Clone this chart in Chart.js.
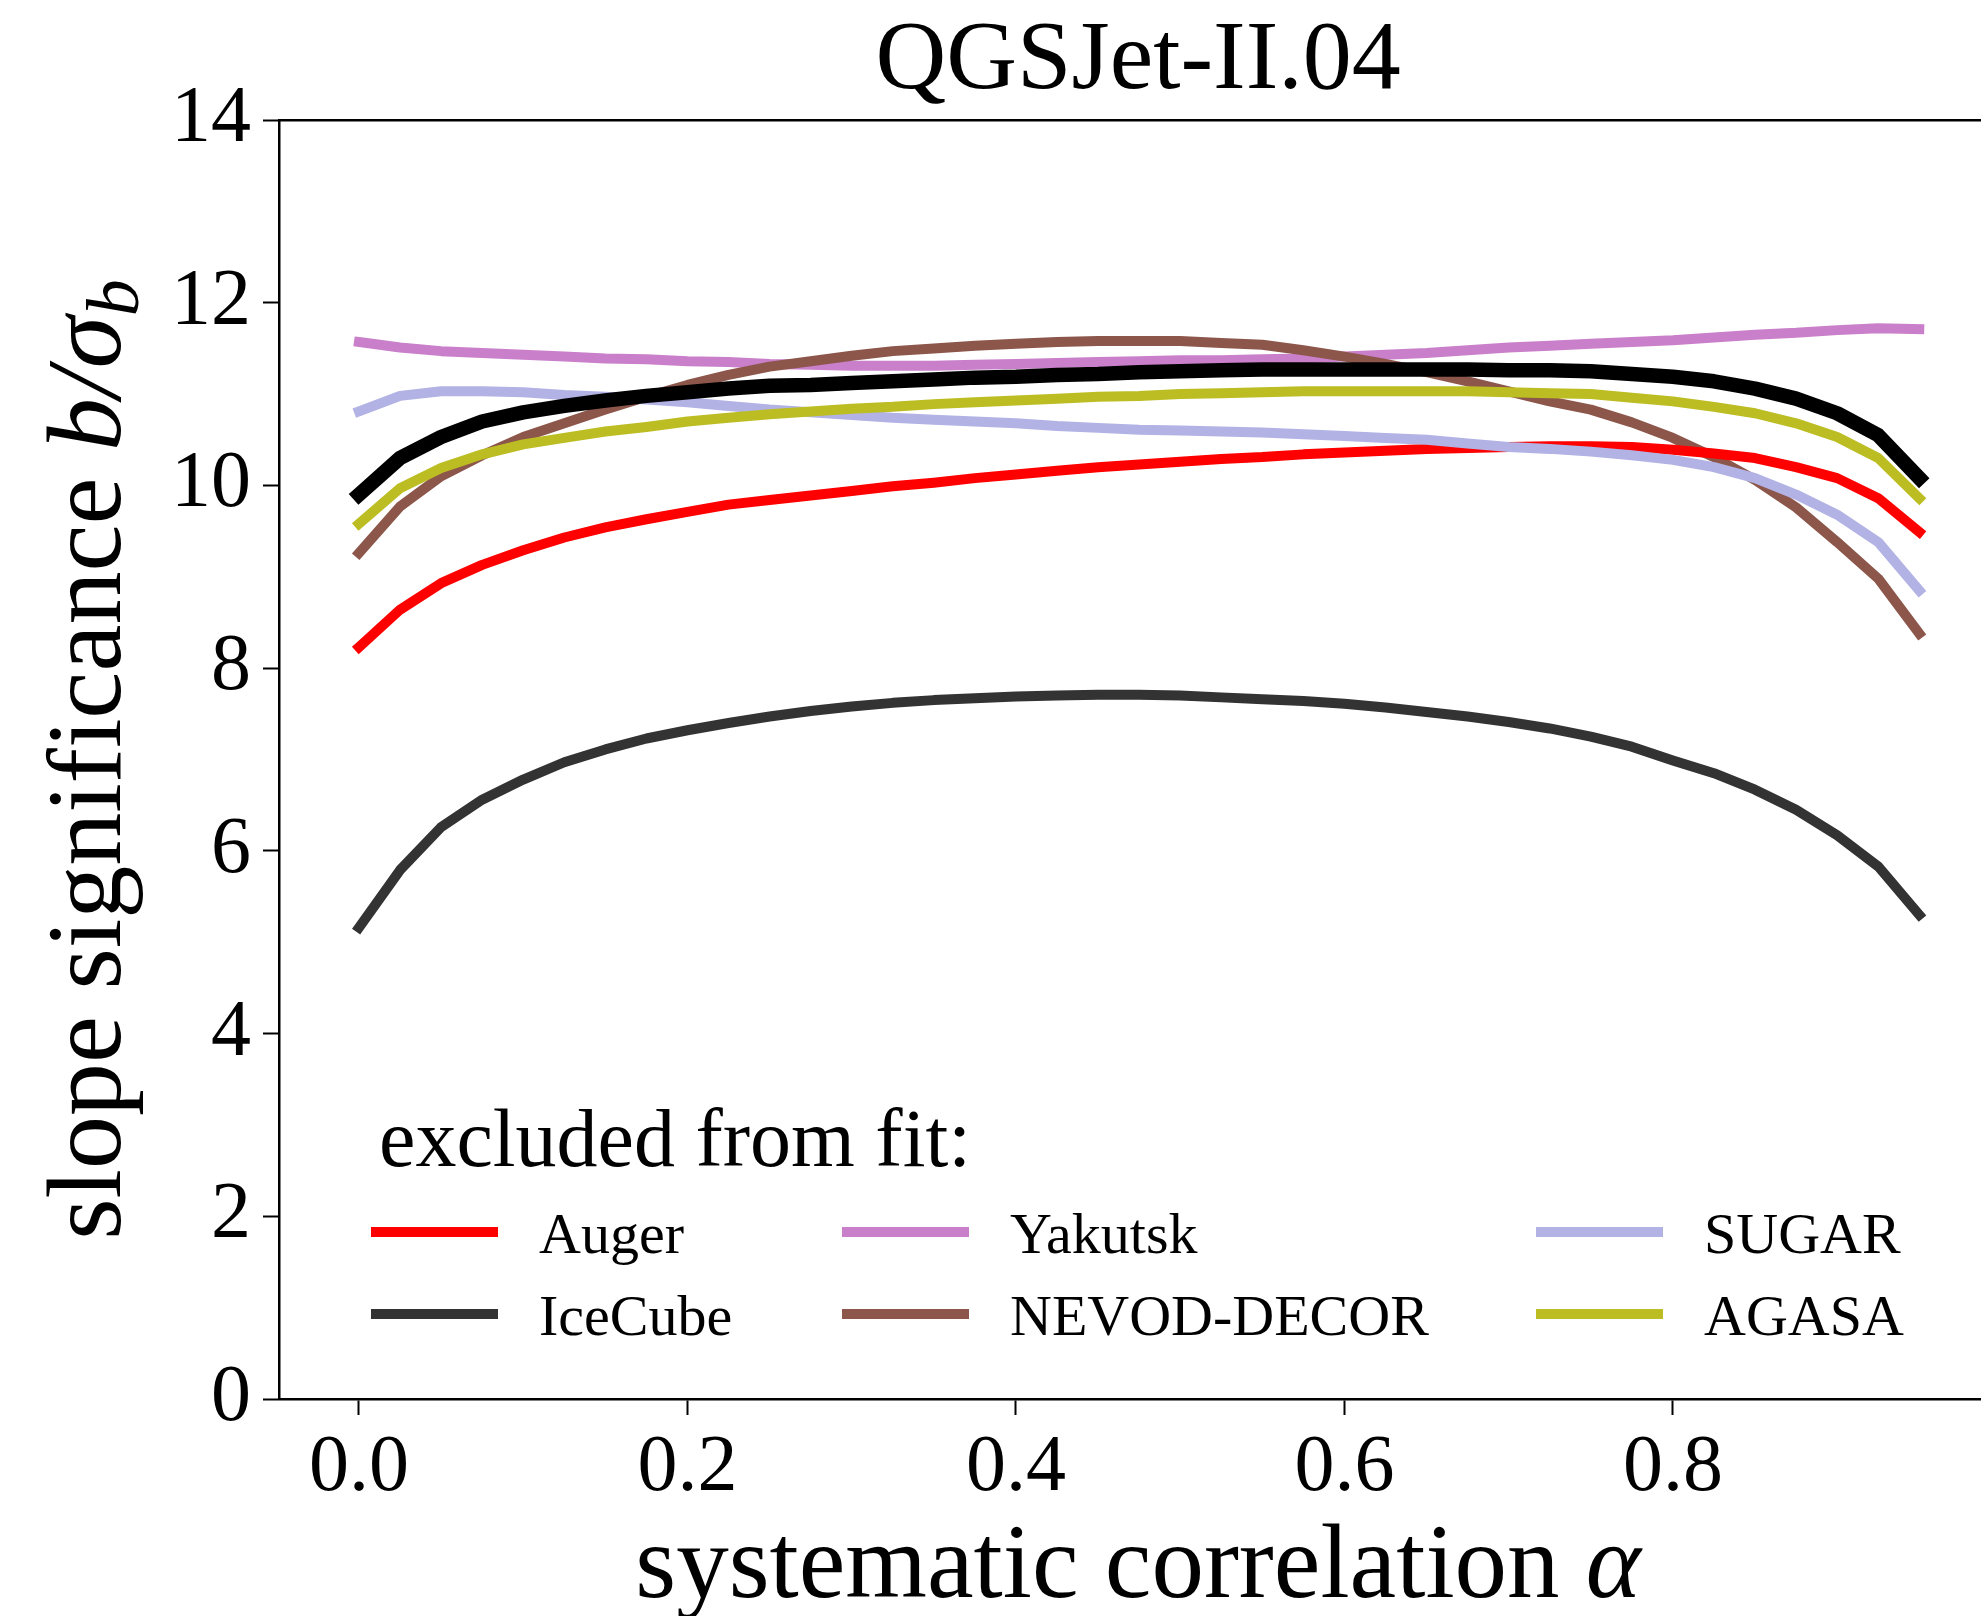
<!DOCTYPE html>
<html>
<head>
<meta charset="utf-8">
<title>QGSJet-II.04</title>
<script src="https://cdn.jsdelivr.net/npm/chart.js@4.4.1/dist/chart.umd.min.js"></script>
<style>
  html, body { margin: 0; padding: 0; background: #fff; overflow: hidden; }
</style>
</head>
<body>
<canvas id="grafico" width="1981" height="1616"></canvas>
<script>
// correlacion sistematica alpha (eje x)
const alpha = [0, 0.025, 0.05, 0.075, 0.1, 0.125, 0.15, 0.175, 0.2, 0.225,
               0.25, 0.275, 0.3, 0.325, 0.35, 0.375, 0.4, 0.425, 0.45, 0.475,
               0.5, 0.525, 0.55, 0.575, 0.6, 0.625, 0.65, 0.675, 0.7, 0.725,
               0.75, 0.775, 0.8, 0.825, 0.85, 0.875, 0.9, 0.925, 0.95];

// significancia de la pendiente b/sigma_b, un arreglo por experimento excluido
const todos = [9.90, 10.30, 10.53, 10.70, 10.80, 10.87, 10.93, 10.98, 11.02, 11.06,
               11.09, 11.10, 11.12, 11.14, 11.16, 11.18, 11.19, 11.21, 11.22, 11.24,
               11.25, 11.26, 11.27, 11.27, 11.27, 11.27, 11.27, 11.27, 11.26, 11.26,
               11.25, 11.22, 11.19, 11.14, 11.06, 10.95, 10.79, 10.55, 10.08];
const auger = [8.23, 8.64, 8.93, 9.13, 9.29, 9.43, 9.54, 9.63, 9.71, 9.79,
               9.84, 9.89, 9.94, 9.99, 10.03, 10.08, 10.12, 10.16, 10.20, 10.23,
               10.26, 10.29, 10.31, 10.34, 10.36, 10.38, 10.40, 10.41, 10.42, 10.43,
               10.43, 10.42, 10.39, 10.35, 10.30, 10.20, 10.08, 9.86, 9.49];
const icecube = [5.16, 5.79, 6.26, 6.56, 6.78, 6.97, 7.11, 7.23, 7.32, 7.40,
                 7.47, 7.53, 7.58, 7.62, 7.65, 7.67, 7.69, 7.70, 7.71, 7.71,
                 7.70, 7.68, 7.66, 7.64, 7.61, 7.57, 7.52, 7.47, 7.41, 7.34,
                 7.25, 7.14, 6.99, 6.85, 6.67, 6.45, 6.17, 5.83, 5.30];
const yakutsk = [11.57, 11.51, 11.47, 11.45, 11.43, 11.41, 11.39, 11.38, 11.36, 11.35,
                 11.33, 11.32, 11.31, 11.31, 11.31, 11.32, 11.33, 11.34, 11.35, 11.36,
                 11.37, 11.37, 11.38, 11.39, 11.41, 11.43, 11.45, 11.48, 11.51, 11.53,
                 11.55, 11.57, 11.59, 11.62, 11.65, 11.67, 11.70, 11.72, 11.71];
const nevod = [9.26, 9.77, 10.10, 10.33, 10.53, 10.68, 10.83, 10.97, 11.10, 11.21,
               11.30, 11.36, 11.42, 11.47, 11.50, 11.53, 11.55, 11.57, 11.58, 11.58,
               11.58, 11.56, 11.54, 11.48, 11.41, 11.33, 11.24, 11.14, 11.03, 10.92,
               10.83, 10.69, 10.52, 10.31, 10.06, 9.76, 9.38, 8.98, 8.38];
const sugar = [10.81, 10.98, 11.03, 11.03, 11.02, 10.99, 10.97, 10.94, 10.91, 10.87,
               10.83, 10.80, 10.77, 10.74, 10.72, 10.70, 10.68, 10.65, 10.63, 10.61,
               10.60, 10.59, 10.58, 10.56, 10.54, 10.52, 10.50, 10.46, 10.42, 10.40,
               10.37, 10.33, 10.28, 10.20, 10.08, 9.90, 9.68, 9.38, 8.85];
const agasa = [9.58, 9.97, 10.19, 10.34, 10.45, 10.52, 10.59, 10.64, 10.70, 10.74,
               10.78, 10.81, 10.84, 10.86, 10.89, 10.91, 10.93, 10.95, 10.97, 10.98,
               11.00, 11.01, 11.02, 11.03, 11.03, 11.03, 11.03, 11.03, 11.02, 11.01,
               11.00, 10.96, 10.92, 10.86, 10.79, 10.68, 10.53, 10.30, 9.86];

const xTicks = [0.0, 0.2, 0.4, 0.6, 0.8];
const yTicks = [0, 2, 4, 6, 8, 10, 12, 14];
const ordenLeyenda = ['Auger', 'IceCube', 'Yakutsk', 'NEVOD-DECOR', 'SUGAR', 'AGASA'];

const SERIF = "'Liberation Serif', 'Times New Roman', serif";
const X_MIN = -0.0487, X_MAX = 0.9876, X_END = 0.9975;

const puntos = arr => arr.map((v, i) => ({ x: alpha[i], y: v }));

function serie(label, data, color, ancho, orden) {
    return {
        label: label,
        data: puntos(data),
        borderColor: color,
        backgroundColor: color,
        borderWidth: ancho,
        pointRadius: 0,
        tension: 0,
        fill: false,
        borderCapStyle: 'square',
        borderJoinStyle: 'round',
        order: orden
    };
}

// escribe varios trozos de texto con distinta fuente, centrados en x
function textoMixto(ctx, trozos, x, y) {
    let total = 0;
    for (const t of trozos) { ctx.font = t.font; total += ctx.measureText(t.text).width; }
    let cx = x - total / 2;
    ctx.textAlign = 'left';
    ctx.textBaseline = 'alphabetic';
    for (const t of trozos) {
        ctx.font = t.font;
        ctx.fillText(t.text, cx, y + (t.dy || 0));
        cx += ctx.measureText(t.text).width;
    }
}

const textosPlugin = {
    id: 'textos',
    afterDraw(chart) {
        const { ctx, chartArea, scales } = chart;
        const centroX = (chartArea.left + scales.x.getPixelForValue(X_END)) / 2;
        const centroY = (chartArea.top + chartArea.bottom) / 2;
        ctx.save();
        ctx.fillStyle = '#000';

        // titulo
        textoMixto(ctx, [{ text: 'QGSJet-II.04', font: `98px ${SERIF}` }], centroX, 88);

        // eje x
        textoMixto(ctx, [
            { text: 'systematic correlation ', font: `105px ${SERIF}` },
            { text: 'α', font: `italic 105px ${SERIF}` }
        ], centroX, 1597);

        // eje y
        ctx.save();
        ctx.translate(120, centroY);
        ctx.rotate(-Math.PI / 2);
        textoMixto(ctx, [
            { text: 'slope significance ', font: `106px ${SERIF}` },
            { text: 'b/σ', font: `italic 106px ${SERIF}` },
            { text: 'b', font: `italic 74px ${SERIF}`, dy: 18 }
        ], 0, 0);
        ctx.restore();

        // leyenda: 3 columnas, se llena por columna
        const colX = [92, 563, 1257];
        const filaY = [-167, -85];
        ctx.textAlign = 'left';
        ctx.textBaseline = 'alphabetic';
        ctx.font = `82px ${SERIF}`;
        ctx.fillText('excluded from fit:', chartArea.left + 100, chartArea.bottom - 233);
        ctx.font = `58px ${SERIF}`;
        ordenLeyenda.forEach((nombre, i) => {
            const ds = chart.data.datasets.find(d => d.label === nombre);
            const x0 = chartArea.left + colX[Math.floor(i / 2)];
            const y0 = chartArea.bottom + filaY[i % 2];
            ctx.strokeStyle = ds.borderColor;
            ctx.lineWidth = 10;
            ctx.lineCap = 'butt';
            ctx.beginPath();
            ctx.moveTo(x0, y0);
            ctx.lineTo(x0 + 127, y0);
            ctx.stroke();
            ctx.fillText(nombre, x0 + 168, y0 + 21);
        });
        ctx.restore();
    }
};

const ctx = document.getElementById('grafico').getContext('2d');
new Chart(ctx, {
    type: 'line',
    data: {
        datasets: [
            serie('Auger', auger, '#ff0000', 10, 3),
            serie('IceCube', icecube, '#333333', 10, 6),
            serie('Yakutsk', yakutsk, '#c97fc9', 10, 5),
            serie('NEVOD-DECOR', nevod, '#8c564b', 10, 4),
            serie('SUGAR', sugar, '#b2b2e5', 10, 2),
            serie('AGASA', agasa, '#bcbd22', 10, 1),
            serie('all', todos, '#000000', 14.5, 0)
        ]
    },
    options: {
        responsive: false,
        animation: false,
        events: [],
        layout: { padding: { top: 120, left: 0, right: 0, bottom: 0 } },
        plugins: {
            legend: { display: false },
            title: { display: false },
            tooltip: { enabled: false }
        },
        scales: {
            x: {
                type: 'linear',
                position: 'bottom',
                min: X_MIN,
                max: X_MAX,
                afterFit(s) { s.height = 217; },
                afterBuildTicks(s) { s.ticks = xTicks.map(v => ({ value: v })); },
                grid: { display: true, drawOnChartArea: false, drawTicks: true, tickLength: 16, tickWidth: 2, tickColor: '#000' },
                border: { display: true, color: '#000', width: 2.5 },
                ticks: {
                    color: '#000',
                    font: { family: SERIF, size: 80 },
                    padding: 6,
                    maxRotation: 0,
                    autoSkip: false,
                    callback: v => v.toFixed(1)
                }
            },
            xTop: {
                type: 'linear',
                position: 'top',
                display: true,
                afterFit(s) { s.height = 0; },
                grid: { display: false },
                border: { display: true, color: '#000', width: 2.5 },
                ticks: { display: false }
            },
            y: {
                type: 'linear',
                min: 0,
                max: 14,
                afterFit(s) { s.width = 279; },
                afterBuildTicks(s) { s.ticks = yTicks.map(v => ({ value: v })); },
                grid: { display: true, drawOnChartArea: false, drawTicks: true, tickLength: 16, tickWidth: 2, tickColor: '#000' },
                border: { display: true, color: '#000', width: 2.5 },
                ticks: {
                    color: '#000',
                    font: { family: SERIF, size: 80 },
                    padding: 12,
                    callback: v => String(v)
                }
            }
        }
    },
    plugins: [textosPlugin]
});
</script>
</body>
</html>
